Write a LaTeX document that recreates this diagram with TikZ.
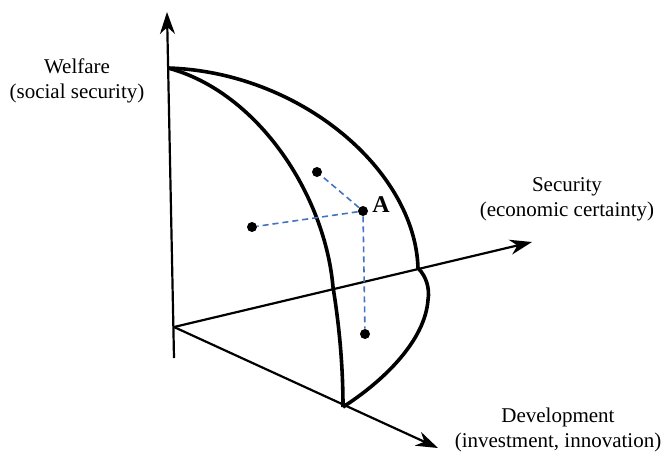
\documentclass[tikz,border=0pt]{standalone}
\usepackage{fontspec}
\setmainfont{Liberation Serif}
\usetikzlibrary{arrows.meta,positioning}
\definecolor{dashblue}{RGB}{68,114,196}
\tikzset{
  >={Stealth[length=11pt,width=7.5pt,inset=3.5pt]},
  axis/.style = {line width=1.1pt},
  front/.style = {line width=1.8pt, line join=round},
  pt/.style = {circle, fill=black, inner sep=0pt, minimum size=5pt},
  link/.style = {dashblue, dashed, line width=0.8pt, dash pattern=on 3pt off 2pt},
  lab/.style = {align=center, font=\rmfamily\fontsize{10.5}{12.5}\selectfont},
}
\begin{document}
\begin{tikzpicture}[x=0.5pt,y=-0.5pt]
\useasboundingbox (0,0) rectangle (666,452);
% axes
\coordinate (o) at (174,327);
\coordinate (wtop) at (167,12);
\coordinate (wbot) at (174,358);
\coordinate (stip) at (532,242);
\coordinate (dtip) at (438,448);
\draw[axis,->] (wbot) -- (wtop);
\draw[axis,->] (o) -- (stip);
\draw[axis,->] (o) -- (dtip);

% frontier
\coordinate (top) at (168,68);
\coordinate (bend) at (418,268);
\coordinate (foot) at (343,407);
\draw[front] (top) .. controls (300,72) and (415,170) .. (bend)
  .. controls (426,276) and (430,288) .. (428,300)
  .. controls (425,340) and (385,380) .. (foot);
\draw[front] (top) .. controls (258,92) and (325,195) .. (333,287)
  .. controls (340,330) and (343,370) .. (foot);

% points
\node[pt] (a) at (363,211) {};
\node[pt] (p1) at (317,172) {};
\node[pt] (p2) at (252,227) {};
\node[pt] (p3) at (365,334) {};
\node[font=\rmfamily\fontsize{12}{14}\selectfont\bfseries] (alab) at (381,205) {A};
\draw[link] (a) -- (p1);
\draw[link] (a) -- (p2);
\draw[link] (a) -- (p3);

% labels
\node[lab] (wel) at (77,81) {Welfare\\(social security)};
\node[lab] (sec) at (567,199) {Security\\(economic certainty)};
\node[lab] (dev) at (558,430) {Development\\(investment, innovation)};
\end{tikzpicture}
\end{document}
